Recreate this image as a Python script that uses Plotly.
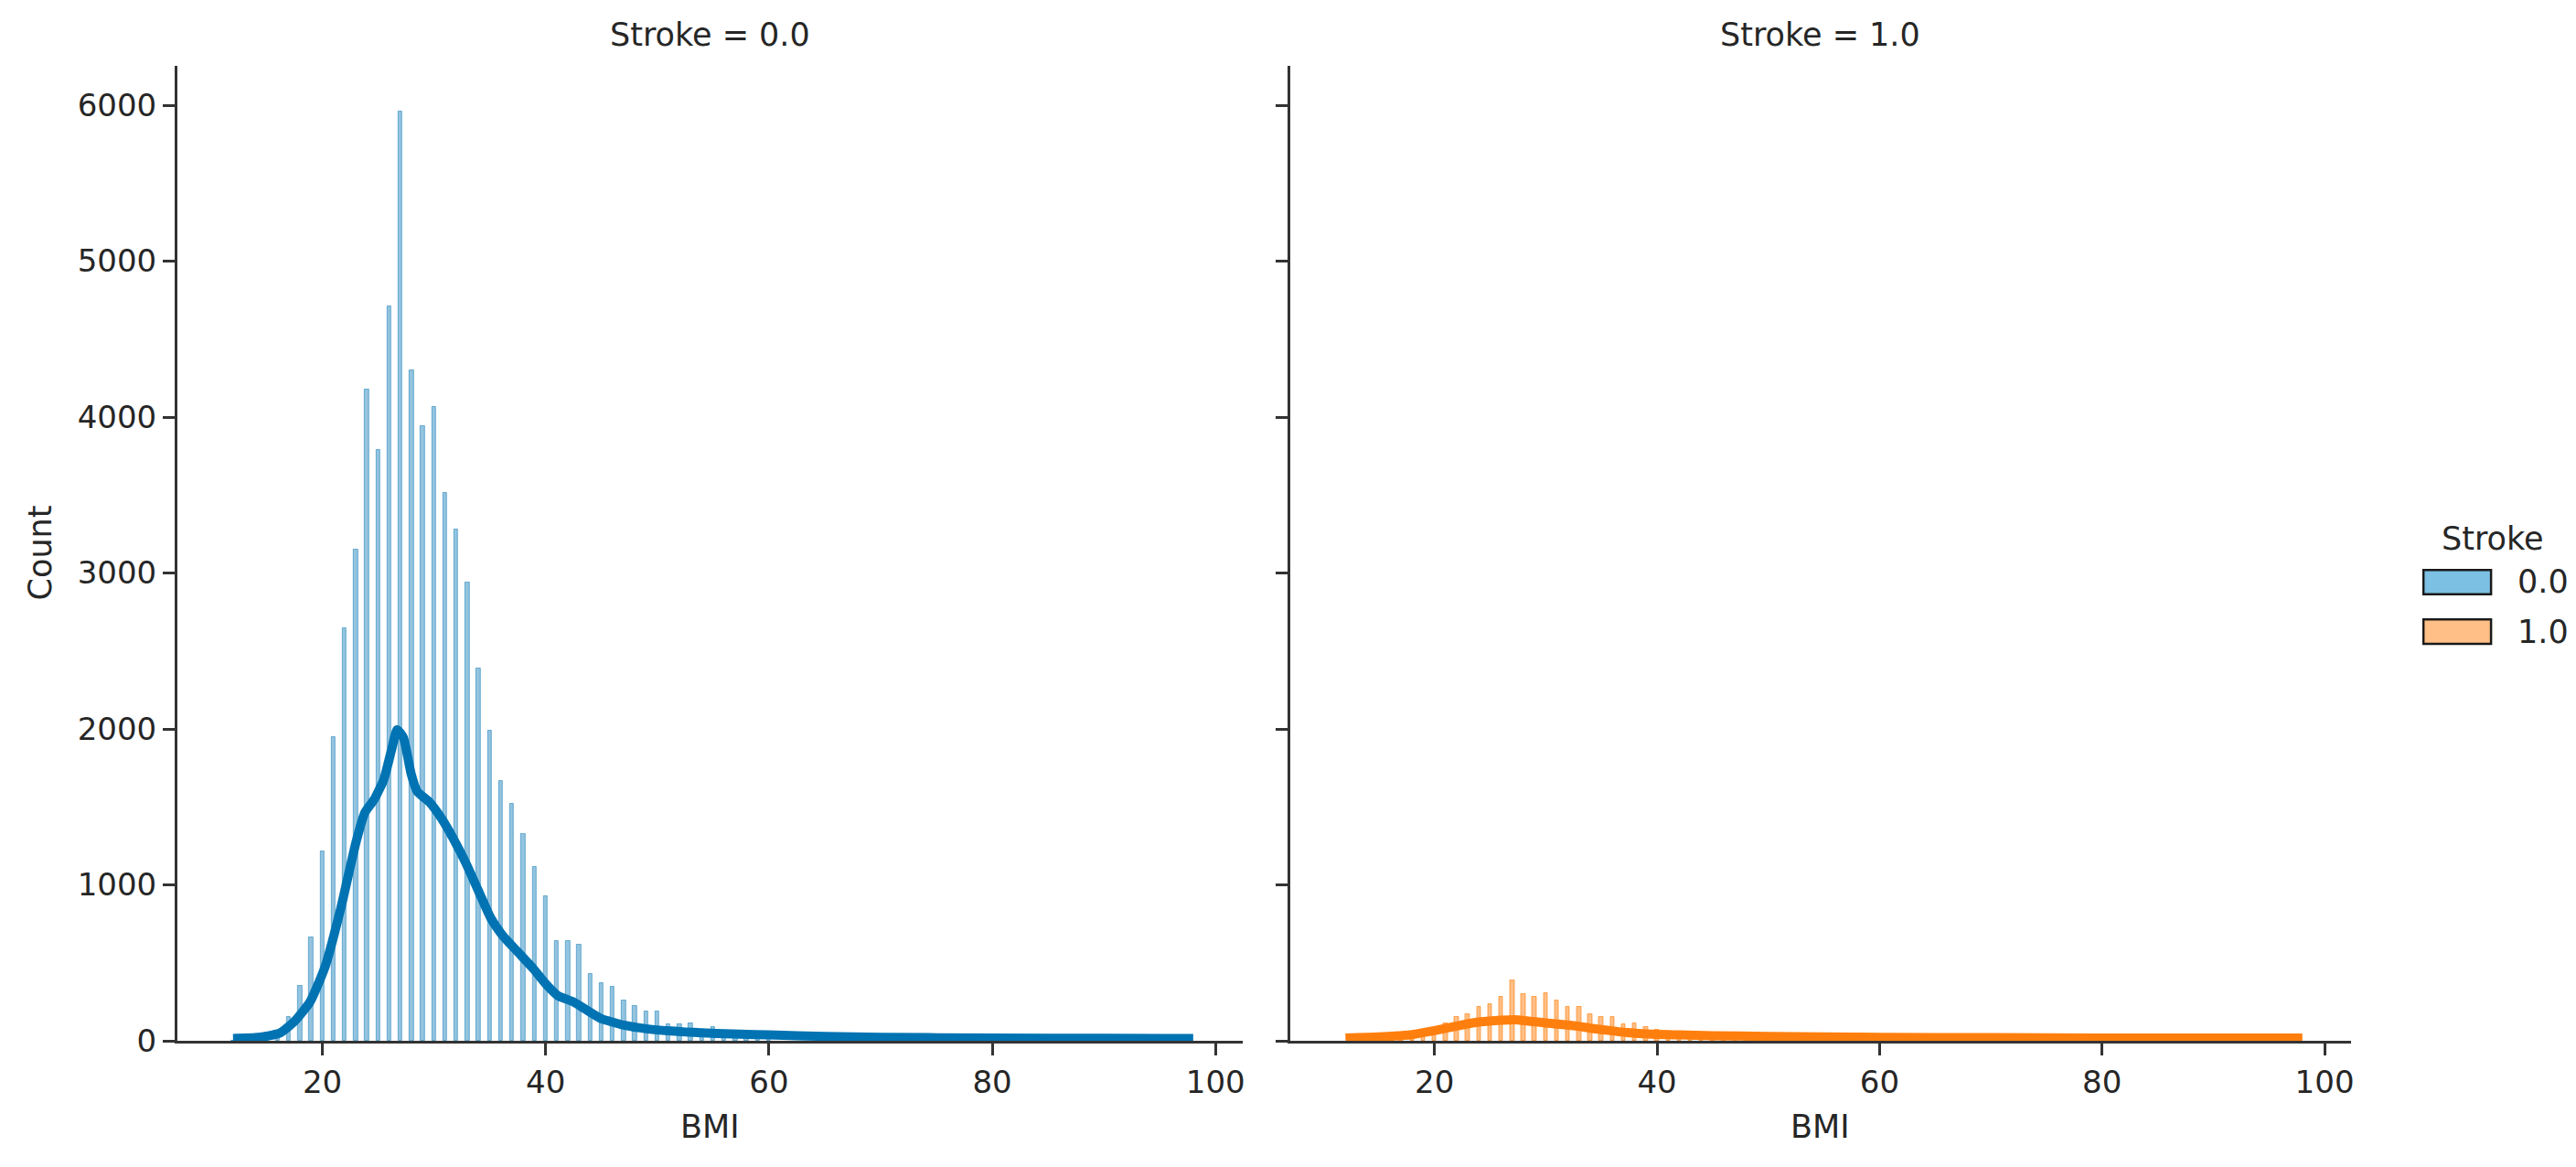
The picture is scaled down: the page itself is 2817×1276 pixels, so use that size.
import plotly.graph_objects as go

# ---------------- data ----------------
bmi_0 = [12, 13, 14, 15, 16, 17, 18, 19, 20, 21, 22, 23, 24, 25, 26, 27, 28, 29, 30,
         31, 32, 33, 34, 35, 36, 37, 38, 39, 40, 41, 42, 43, 44, 45, 46, 47, 48, 49,
         50, 51, 52, 53, 54, 55, 56, 57, 58, 59, 60]
count_0 = [3, 8, 15, 30, 60, 150, 350, 663, 1216, 1945, 2644, 3152, 4174, 3789, 4709,
           5960, 4302, 3944, 4068, 3515, 3281, 2940, 2388, 1990, 1667, 1517, 1326, 1114,
           928, 641, 641, 619, 429, 367, 345, 256, 221, 190, 190, 106, 106, 110, 60, 87,
           40, 35, 30, 25, 20]

bmi_1 = [17, 18, 19, 20, 21, 22, 23, 24, 25, 26, 27, 28, 29, 30, 31, 32, 33, 34, 35,
         36, 37, 38, 39, 40, 41, 42, 43, 44, 45, 46, 47, 48, 49, 50]
count_1 = [10, 20, 35, 60, 112, 154, 173, 216, 235, 279, 385, 298, 279, 304, 260, 216,
           216, 169, 154, 154, 106, 112, 87, 70, 55, 50, 40, 30, 28, 22, 18, 15, 12, 10]

kde_x_0 = [12, 14, 15, 16.2, 17.5, 18.9, 20.27, 21.64, 23.0, 23.8, 24.66, 25.5, 26.2,
           26.7, 27.26, 27.95, 28.5, 29.6, 30.68, 31.78, 32.88, 33.97, 35.07, 36.16,
           37.53, 38.9, 40.0, 41.1, 42.47, 43.56, 44.9, 45.75, 47, 49, 53.2, 57.4, 60,
           65, 70, 80, 90, 98]
kde_y_0 = [15, 20, 30, 50, 125, 250, 481, 847, 1270, 1463, 1550, 1675, 1867, 1995, 1944,
           1713, 1598, 1530, 1425, 1290, 1136, 963, 789, 674, 568, 462, 366, 289, 250,
           202, 144, 125, 100, 77, 54, 42, 38, 28, 22, 18, 16, 15]

kde_x_1 = [12, 15, 18, 20, 22, 24, 26, 27.2, 28.6, 30, 31.3, 33, 34, 36, 37, 39.5, 42,
           45, 50, 55, 60, 70, 80, 90, 98]
kde_y_1 = [18, 25, 40, 65, 95, 120, 132, 135, 125, 115, 106, 92, 81, 64, 55, 42, 38,
           33, 28, 25, 22, 20, 18, 18, 18]

panel_titles = ["Stroke = 0.0", "Stroke = 1.0"]
legend_labels = ["0.0", "1.0"]
x_ticks = [20, 40, 60, 80, 100]
y_ticks = [0, 1000, 2000, 3000, 4000, 5000, 6000]

# ---------------- styles ----------------
W, H = 2817, 1276
FONT = "DejaVu Sans"
TXT = "#262626"
BLUE_LINE = "#0173b2"
BLUE_FILL = "rgba(1,115,178,0.42)"
BLUE_EDGE = "rgba(1,115,178,0.5)"
ORANGE_LINE = "#ff7f0e"
ORANGE_FILL = "rgba(255,127,14,0.5)"
ORANGE_EDGE = "rgba(255,127,14,0.65)"

xdom1 = [186 / W, 1352 / W]
xdom2 = [1404 / W, 2566 / W]
ydom = [1 - 1148 / H, 1 - 65 / H]

fig = go.Figure()

fig.add_trace(go.Bar(x=bmi_0, y=count_0, width=0.36, marker=dict(color=BLUE_FILL,
              line=dict(color=BLUE_EDGE, width=1)), xaxis="x", yaxis="y",
              showlegend=False))
fig.add_trace(go.Scatter(x=kde_x_0, y=kde_y_0, mode="lines",
              line=dict(color=BLUE_LINE, width=10, shape="spline", smoothing=0.5),
              xaxis="x", yaxis="y", showlegend=False))

fig.add_trace(go.Bar(x=bmi_1, y=count_1, width=0.36, marker=dict(color=ORANGE_FILL,
              line=dict(color=ORANGE_EDGE, width=1)), xaxis="x2", yaxis="y2",
              showlegend=False))
fig.add_trace(go.Scatter(x=kde_x_1, y=kde_y_1, mode="lines",
              line=dict(color=ORANGE_LINE, width=10, shape="spline", smoothing=0.5),
              xaxis="x2", yaxis="y2", showlegend=False))

axis_common = dict(showline=True, linecolor="#333333", linewidth=2.5, ticks="outside",
                   ticklen=13, tickwidth=2.5, tickcolor="#333333", showgrid=False,
                   zeroline=False, tickfont=dict(family=FONT, size=34, color=TXT))

fig.update_layout(
    width=W, height=H,
    margin=dict(l=0, r=0, t=0, b=0),
    paper_bgcolor="white", plot_bgcolor="white",
    barmode="overlay", bargap=0,
    font=dict(family=FONT, color=TXT),
    xaxis=dict(domain=xdom1, range=[7.0, 102.4], tickvals=x_ticks, anchor="y",
               **axis_common),
    xaxis2=dict(domain=xdom2, range=[7.0, 102.4], tickvals=x_ticks, anchor="y2",
                **axis_common),
    yaxis=dict(domain=ydom, range=[0, 6253], tickvals=y_ticks, anchor="x",
               **axis_common),
    yaxis2=dict(domain=ydom, range=[0, 6253], tickvals=y_ticks, anchor="x2",
                showticklabels=False, **axis_common),
)

ann = []
# panel titles
for dom, t in zip([xdom1, xdom2], panel_titles):
    ann.append(dict(text=t, x=(dom[0] + dom[1]) / 2, y=1 - 30 / H, xref="paper",
                    yref="paper", showarrow=False, xanchor="center", yanchor="middle",
                    font=dict(family=FONT, size=35, color=TXT)))
# axis titles
for dom in [xdom1, xdom2]:
    ann.append(dict(text="BMI", x=(dom[0] + dom[1]) / 2, y=1 - 1243 / H, xref="paper",
                    yref="paper", showarrow=False, xanchor="center", yanchor="middle",
                    font=dict(family=FONT, size=35, color=TXT)))
ann.append(dict(text="Count", x=36 / W, y=1 - 606 / H, xref="paper", yref="paper",
                showarrow=False, textangle=-90, xanchor="center", yanchor="middle",
                font=dict(family=FONT, size=35, color=TXT)))
# legend
ann.append(dict(text="Stroke", x=2721 / W, y=1 - 590 / H, xref="paper", yref="paper",
                showarrow=False, xanchor="center", yanchor="middle",
                font=dict(family=FONT, size=35, color=TXT)))
shapes = []
leg_fills = ["#7cc0e4", "#ffbf86"]
for i, (lab, fc) in enumerate(zip(legend_labels, leg_fills)):
    y0 = 625 + i * 55
    shapes.append(dict(type="rect", xref="paper", yref="paper",
                       x0=2645 / W, x1=2719 / W, y0=1 - (y0 + 27) / H, y1=1 - y0 / H,
                       fillcolor=fc, line=dict(color="#1a1a1a", width=2.5)))
    ann.append(dict(text=lab, x=2746 / W, y=1 - (y0 + 13.5) / H, xref="paper",
                    yref="paper", showarrow=False, xanchor="left", yanchor="middle",
                    font=dict(family=FONT, size=35, color=TXT)))

fig.update_layout(annotations=ann, shapes=shapes)
fig.write_html("out.html")
